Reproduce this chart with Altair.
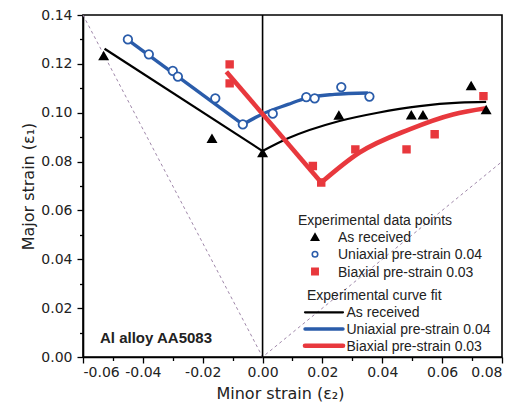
import altair as alt
import pandas as pd

# ---------------- data ----------------
cats = ["As received", "Uniaxial pre-strain 0.04", "Biaxial pre-strain 0.03"]
pt_title = "Experimental data points"
fit_title = "Experimental curve fit"

# experimental data points
ar_x = [-0.0531, -0.0169, 0.0000, 0.0255, 0.0497, 0.0536, 0.0697, 0.0747]
ar_y = [0.1232, 0.0894, 0.0835, 0.0989, 0.0990, 0.0990, 0.1110, 0.1011]
uni_x = [-0.0450, -0.0380, -0.0300, -0.0283, -0.0158, -0.0066, 0.0034, 0.0146, 0.0174, 0.0263, 0.0357]
uni_y = [0.1300, 0.1239, 0.1171, 0.1148, 0.1059, 0.0952, 0.0996, 0.1064, 0.1059, 0.1105, 0.1066]
bi_x = [-0.0110, -0.0110, 0.0168, 0.0196, 0.0310, 0.0481, 0.0575, 0.0738]
bi_y = [0.1198, 0.1120, 0.0782, 0.0714, 0.0850, 0.0850, 0.0912, 0.1068]

# experimental curve fits (left straight branch, right curved branch)
ar_fit_l_x = [-0.0528, 0.0000]
ar_fit_l_y = [0.1262, 0.0843]
ar_fit_r_x = [0.0000, 0.0085, 0.0257, 0.0385, 0.0525, 0.0658, 0.0747]
ar_fit_r_y = [0.0843, 0.0895, 0.0966, 0.1000, 0.1027, 0.1041, 0.1044]
uni_fit_l_x = [-0.0450, -0.0066]
uni_fit_l_y = [0.1298, 0.0952]
uni_fit_r_x = [-0.0066, 0.0000, 0.0085, 0.0146, 0.0240, 0.0352]
uni_fit_r_y = [0.0952, 0.0995, 0.1034, 0.1060, 0.1075, 0.1081]
bi_fit_l_x = [-0.0121, 0.0196]
bi_fit_l_y = [0.1168, 0.0714]
bi_fit_r_x = [0.0196, 0.0324, 0.0491, 0.0636, 0.0747]
bi_fit_r_y = [0.0714, 0.0837, 0.0932, 0.0993, 0.1018]

# dotted guide lines
guide_x = [-0.06, 0.0, 0.08]
guide_y = [0.14, 0.0, 0.08]

x_major = [-0.06, -0.04, -0.02, 0.0, 0.02, 0.04, 0.06, 0.08]
x_minor = [-0.05, -0.03, -0.01, 0.01, 0.03, 0.05, 0.07]
y_major = [0.0, 0.02, 0.04, 0.06, 0.08, 0.10, 0.12, 0.14]
y_minor = [0.01, 0.03, 0.05, 0.07, 0.09, 0.11, 0.13]

annotation = ["Al alloy AA5083"]

# ---------------- tables ----------------
pts_by_cat = [
    pd.DataFrame({"x": ar_x, "y": ar_y, "pt": cats[0]}),
    pd.DataFrame({"x": uni_x, "y": uni_y, "pt": cats[1]}),
    pd.DataFrame({"x": bi_x, "y": bi_y, "pt": cats[2]}),
]

fit_rows = []
for name, segs in [
    (cats[0], [(ar_fit_l_x, ar_fit_l_y), (ar_fit_r_x, ar_fit_r_y)]),
    (cats[1], [(uni_fit_l_x, uni_fit_l_y), (uni_fit_r_x, uni_fit_r_y)]),
    (cats[2], [(bi_fit_l_x, bi_fit_l_y), (bi_fit_r_x, bi_fit_r_y)]),
]:
    for si, (sx, sy) in enumerate(segs):
        for xv, yv in zip(sx, sy):
            fit_rows.append({"x": xv, "y": yv, "fit": name, "seg": f"{name}-{si}"})
fits = pd.DataFrame(fit_rows)

guide = pd.DataFrame({"x": guide_x, "y": guide_y})
zero = pd.DataFrame({"x": [0.0]})
note = pd.DataFrame({"t": annotation})

# ---------------- styling ----------------
BLACK = "#000000"
BLUE = "#2a5caa"
RED = "#e8383d"
TXT = "#222222"
FONT_AX = "DejaVu Sans"
FONT_LG = "Liberation Sans"

xscale = alt.Scale(domain=[-0.06, 0.08], nice=False, zero=False)
yscale = alt.Scale(domain=[0.0, 0.14], nice=False, zero=False)
shape_scale = alt.Scale(domain=cats, range=["triangle-up", "circle", "square"])
stroke_scale = alt.Scale(domain=cats, range=[BLACK, BLUE, RED])
fill_scale = alt.Scale(domain=cats, range=[BLACK, "white", RED])
color_scale = alt.Scale(domain=cats, range=[BLACK, BLUE, RED])
width_scale = alt.Scale(domain=cats, range=[2.2, 4.6])

minus_fix = "(datum.value < 0 ? '-' : '') + format(abs(datum.value), '.2f')"

xaxis = alt.Axis(values=x_major, labelExpr=minus_fix, title="Minor strain (ε₂)", orient="bottom",
                 tickSize=6, labelPadding=2, titleX=197, titleY=41,
                 titleBaseline="alphabetic", titleAlign="center")
yaxis = alt.Axis(values=y_major, labelExpr=minus_fix, title="Major strain (ε₁)", orient="left",
                 tickSize=6, labelPadding=5, titleX=-50, titleBaseline="alphabetic")

X = alt.X("x:Q", scale=xscale, axis=xaxis)
Y = alt.Y("y:Q", scale=yscale, axis=yaxis)

layers = []

layers.append(alt.Chart(guide).mark_line(
    color="#a088aa", strokeWidth=1, strokeDash=[3, 3]
).encode(x=X, y=Y))

layers.append(alt.Chart(zero).mark_rule(color=BLACK, strokeWidth=1.6).encode(x=X))

layers.append(alt.Chart(fits).mark_line(interpolate="monotone").encode(
    x=X, y=Y,
    color=alt.Color("fit:N", scale=color_scale, legend=None),
    strokeWidth=alt.StrokeWidth("fit:N", scale=width_scale, legend=None),
    detail="seg:N",
    order=alt.Order("x:Q"),
))

pt_sizes = [62, 72, 44]
for df, sz in zip(pts_by_cat, pt_sizes):
    layers.append(alt.Chart(df).mark_point(size=sz, strokeWidth=1.8, opacity=1).encode(
        x=X, y=Y,
        shape=alt.Shape("pt:N", scale=shape_scale, legend=None),
        stroke=alt.Stroke("pt:N", scale=stroke_scale, legend=None),
        fill=alt.Fill("pt:N", scale=fill_scale, legend=None),
    ))

layers.append(alt.Chart(note).mark_text(
    font=FONT_LG, fontSize=15, fontWeight="bold", align="left", baseline="alphabetic", color=TXT
).encode(text="t:N", x=alt.value(17), y=alt.value(328)))

# ---------------- legends (drawn inside the plot area) ----------------
def legend_text(s, px, py):
    return alt.Chart(pd.DataFrame({"t": [s]})).mark_text(
        font=FONT_LG, fontSize=14, align="left", baseline="alphabetic", color=TXT
    ).encode(text="t:N", x=alt.value(px), y=alt.value(py))

# data-point legend
layers.append(legend_text(pt_title, 215, 210))
pt_leg_sizes = [52, 30, 40]
for i, c in enumerate(cats):
    row = pd.DataFrame({"pt": [c], "t": [c]})
    sy = 222 + i * 17.25
    layers.append(alt.Chart(row).mark_point(size=pt_leg_sizes[i], strokeWidth=1.6, opacity=1).encode(
        x=alt.value(232), y=alt.value(sy),
        shape=alt.Shape("pt:N", scale=shape_scale, legend=None),
        stroke=alt.Stroke("pt:N", scale=stroke_scale, legend=None),
        fill=alt.Fill("pt:N", scale=fill_scale, legend=None),
    ))
    layers.append(legend_text(c, 255, sy + 5))

# curve-fit legend
layers.append(legend_text(fit_title, 224, 285))
for i, c in enumerate(cats):
    row = pd.DataFrame({"fit": [c]})
    ly = 297.3 + i * 16.7
    layers.append(alt.Chart(row).mark_rule(strokeCap="round").encode(
        x=alt.value(222), x2=alt.value(260), y=alt.value(ly),
        color=alt.Color("fit:N", scale=color_scale, legend=None),
        strokeWidth=alt.StrokeWidth("fit:N", scale=width_scale, legend=None),
    ))
    layers.append(legend_text(c, 263.5, ly + 5))

inner = alt.layer(*layers)

minor_layer = alt.Chart(guide).mark_point(opacity=0).encode(
    x=alt.X("x:Q", scale=xscale,
            axis=alt.Axis(values=x_minor, labels=False, domain=False, tickSize=3.5,
                          title=None, orient="bottom")),
    y=alt.Y("y:Q", scale=yscale,
            axis=alt.Axis(values=y_minor, labels=False, domain=False, tickSize=3.5,
                          title=None, orient="left")),
)

chart = alt.layer(inner, minor_layer).resolve_axis(
    x="independent", y="independent"
).properties(
    width=419, height=342,
    padding={"left": 83, "top": 15, "right": 21, "bottom": 50},
    autosize=alt.AutoSizeParams(type="none"),
).configure_view(
    stroke=BLACK, strokeWidth=1.6
).configure_axis(
    grid=False, domainColor=BLACK, tickColor=BLACK, domainWidth=1.6, tickWidth=1.3,
    labelColor=TXT, titleColor=TXT, labelFont=FONT_AX, titleFont=FONT_AX,
    labelFontSize=14, titleFontSize=16, titleFontWeight="normal",
)

chart.save("out.html", embed_options={"renderer": "svg", "actions": False})
